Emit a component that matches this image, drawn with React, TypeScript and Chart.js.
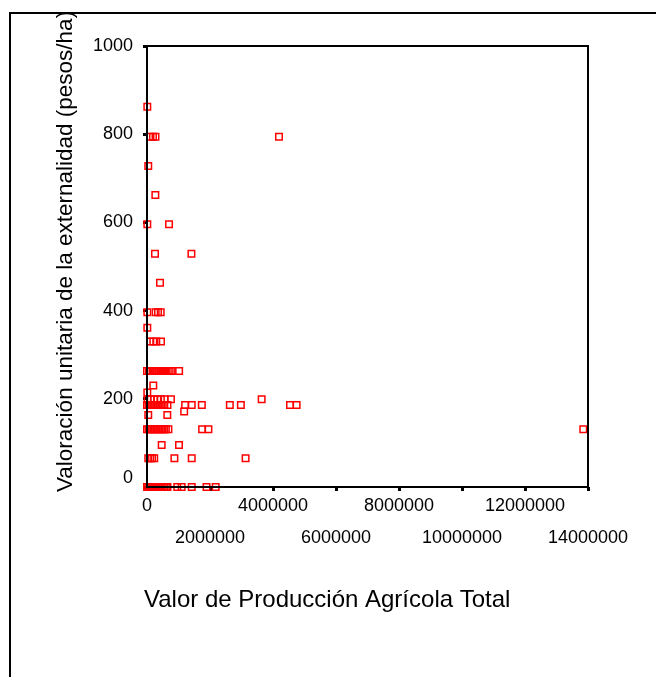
import React, { useEffect, useRef } from "react";
import { Chart, registerables } from "chart.js";

Chart.register(...registerables);

// Valor de Producción Agrícola Total (x) and Valoración unitaria (y), paired by index
const produccion: number[] = [
  10000,
  110000, 190000, 270000, 4190000,
  40000,
  265000,
  10000, 700000,
  254000, 1410000,
  413000,
  10000, 275000, 350000, 435000,
  10000,
  105000, 200000, 295000, 444000,
  0, 60000, 120000, 180000, 240000, 300000, 360000, 420000, 480000, 540000, 600000, 660000, 720000, 780000, 1020000,
  200000,
  10000,
  20000, 120000, 220000, 330000, 440000, 560000, 760000, 3640000,
  0, 50000, 100000, 150000, 200000, 250000, 300000, 350000, 400000, 450000, 500000, 550000, 650000, 1210000, 1420000, 1740000, 2630000, 2980000, 4540000, 4750000,
  1180000,
  40000, 645000,
  0, 50000, 100000, 150000, 200000, 250000, 300000, 350000, 400000, 450000, 500000, 550000, 600000, 680000, 1750000, 1950000, 13850000,
  466000, 1016000,
  40000, 100000, 160000, 230000, 870000, 1420000, 3130000,
  0, 40000, 80000, 120000, 160000, 200000, 250000, 300000, 350000, 400000, 450000, 500000, 550000, 600000, 650000, 960000, 1100000, 1420000, 1890000, 2180000,
];

const valoracion: number[] = [
  862,
  794, 794, 794, 794,
  728,
  662,
  596, 596,
  529, 529,
  463,
  396, 396, 396, 396,
  361,
  330, 330, 330, 330,
  263, 263, 263, 263, 263, 263, 263, 263, 263, 263, 263, 263, 263, 263, 263,
  230,
  214,
  199, 199, 199, 199, 199, 199, 199, 199,
  186, 186, 186, 186, 186, 186, 186, 186, 186, 186, 186, 186, 186, 186, 186, 186, 186, 186, 186, 186,
  171,
  163, 163,
  131, 131, 131, 131, 131, 131, 131, 131, 131, 131, 131, 131, 131, 131, 131, 131, 131,
  95, 95,
  65, 65, 65, 65, 65, 65, 65,
  0, 0, 0, 0, 0, 0, 0, 0, 0, 0, 0, 0, 0, 0, 0, 0, 0, 0, 0, 0,
];

const xTickValues: number[] = [0, 2000000, 4000000, 6000000, 8000000, 10000000, 12000000, 14000000];
const yTickValues: number[] = [0, 200, 400, 600, 800, 1000];

const xTitle = "Valor de Producción Agrícola Total";
const yTitle = "Valoración unitaria de la externalidad (pesos/ha)";

const FONT = "'Liberation Sans', Arial, Helvetica, sans-serif";

const decorPlugin = {
  id: "decor",
  afterDatasetsDraw(chart: any) {
    const { ctx, chartArea: a } = chart;
    ctx.save();
    ctx.strokeStyle = "#000";
    ctx.lineWidth = 2;
    ctx.strokeRect(a.left, a.top, a.right - a.left, a.bottom - a.top);
    ctx.restore();
  },
  afterDraw(chart: any) {
    const { ctx } = chart;
    ctx.save();
    // outer frame
    ctx.strokeStyle = "#000";
    ctx.lineWidth = 2;
    ctx.beginPath();
    ctx.moveTo(10, 700);
    ctx.lineTo(10, 13);
    ctx.lineTo(700, 13);
    ctx.stroke();

    // zero label on y axis (raised as in reference)
    const ys = chart.scales.y;
    ctx.fillStyle = "#000";
    ctx.font = `18px ${FONT}`;
    ctx.textAlign = "right";
    ctx.textBaseline = "middle";
    ctx.fillText("0", 133, ys.getPixelForValue(0) - 9);

    // x title
    ctx.font = `24px ${FONT}`;
    ctx.textAlign = "left";
    ctx.textBaseline = "alphabetic";
    ctx.fillText(xTitle, 144, 607);

    // y title (clipped by the outer frame)
    ctx.beginPath();
    ctx.rect(11, 14, 400, 700);
    ctx.clip();
    ctx.translate(72, 492);
    ctx.rotate(-Math.PI / 2);
    ctx.font = `22.5px ${FONT}`;
    ctx.fillText(yTitle, 0, 0);
    ctx.restore();
  },
};

export default function App() {
  const canvasRef = useRef<HTMLCanvasElement | null>(null);

  useEffect(() => {
    if (!canvasRef.current) return;
    const points = produccion.map((x, i) => ({ x, y: valoracion[i] }));
    const chart = new Chart(canvasRef.current, {
      type: "scatter",
      data: {
        datasets: [
          {
            data: points,
            pointStyle: "rect",
            pointRadius: 4.6,
            pointBorderWidth: 1.5,
            borderColor: "#ff0000",
            backgroundColor: "rgba(0,0,0,0)",
            pointBackgroundColor: "rgba(0,0,0,0)",
            pointBorderColor: "#ff0000",
            clip: false,
          } as any,
        ],
      },
      options: {
        animation: false,
        responsive: true,
        maintainAspectRatio: false,
        events: [],
        layout: { padding: { left: 0, top: 46, right: 68, bottom: 0 } },
        plugins: {
          legend: { display: false },
          tooltip: { enabled: false },
          title: { display: false },
        },
        scales: {
          x: {
            type: "linear",
            min: 0,
            max: 14000000,
            afterBuildTicks: (scale: any) => {
              scale.ticks = xTickValues.map((v) => ({ value: v }));
            },
            afterFit: (scale: any) => {
              scale.height = 190;
            },
            border: { display: false },
            grid: {
              display: true,
              drawOnChartArea: false,
              drawTicks: true,
              tickLength: 4,
              tickWidth: 3,
              tickColor: "#000",
              color: "#000",
            },
            ticks: {
              autoSkip: false,
              maxRotation: 0,
              minRotation: 0,
              padding: -1,
              color: "#000",
              font: { family: FONT, size: 18, lineHeight: 32 / 18 },
              callback: (value: any, index: number) => {
                const s = String(value);
                return index % 2 === 1 ? ["", s] : s;
              },
            },
          },
          y: {
            type: "linear",
            min: 0,
            max: 1000,
            afterBuildTicks: (scale: any) => {
              scale.ticks = yTickValues.map((v) => ({ value: v }));
            },
            afterFit: (scale: any) => {
              scale.width = 147;
            },
            border: { display: false },
            grid: {
              display: true,
              drawOnChartArea: false,
              drawTicks: true,
              tickLength: 4,
              tickWidth: 3,
              tickColor: "#000",
              color: "#000",
            },
            ticks: {
              padding: 10,
              color: "#000",
              font: { family: FONT, size: 18 },
              callback: (value: any) => (value === 0 ? "" : String(value)),
            },
          },
        },
      } as any,
      plugins: [decorPlugin],
    });
    return () => chart.destroy();
  }, []);

  return (
    <div style={{ position: "fixed", left: 0, top: 0, width: 656, height: 677, background: "#fff" }}>
      <canvas ref={canvasRef} />
    </div>
  );
}
